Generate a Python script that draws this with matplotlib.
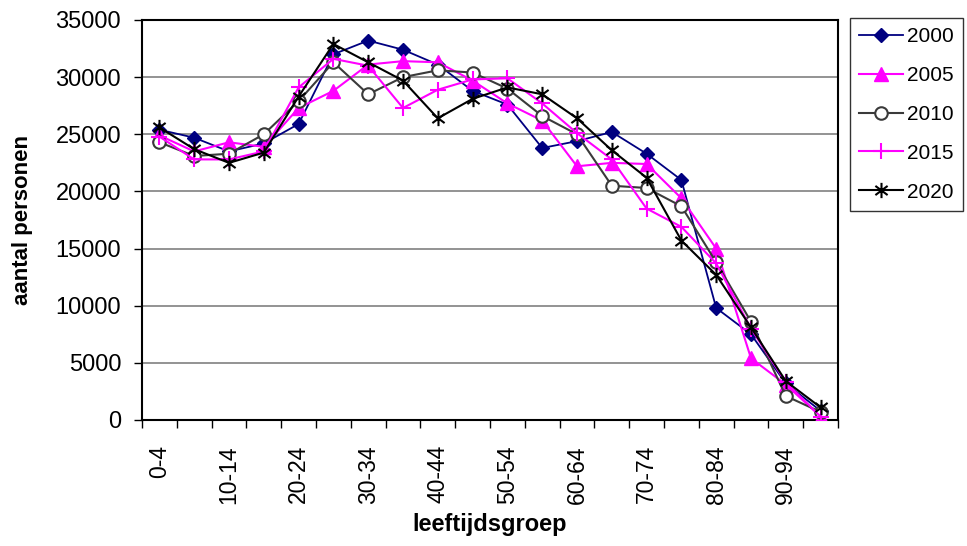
import matplotlib
matplotlib.use("Agg")
import matplotlib.pyplot as plt
from matplotlib.path import Path
import numpy as np

plt.rcParams['font.family'] = ['Liberation Sans', 'DejaVu Sans']

groups = ["0-4", "5-9", "10-14", "15-19", "20-24", "25-29", "30-34", "35-39",
          "40-44", "45-49", "50-54", "55-59", "60-64", "65-69", "70-74",
          "75-79", "80-84", "85-89", "90-94", "95-99"]

y2000 = [25400, 24700, 23500, 24200, 25900, 32000, 33200, 32400, 31100, 28800,
         27600, 23800, 24400, 25200, 23300, 21000, 9800, 7500, 3200, 800]
y2005 = [24900, 23500, 24300, 23900, 27300, 28800, 31100, 31400, 31300, 29700,
         27700, 26200, 22200, 22500, 22400, 19400, 15000, 5400, 3100, 300]
y2010 = [24300, 23100, 23300, 25000, 27900, 31300, 28500, 30000, 30600, 30400,
         29000, 26600, 25000, 20500, 20300, 18700, 13800, 8600, 2100, 700]
y2015 = [24800, 22800, 22800, 23500, 29100, 31600, 31000, 27300, 28900, 29800,
         29900, 27700, 25100, 22800, 18500, 16900, 13700, 8000, 3300, 300]
y2020 = [25600, 23700, 22500, 23400, 28300, 32900, 31300, 29700, 26400, 28100,
         29100, 28500, 26400, 23600, 21200, 15700, 12700, 8100, 3400, 1100]

series_names = ["2000", "2005", "2010", "2015", "2020"]

# asterisk marker: vertical line + X
ast = Path([(0, -1), (0, 1), (-0.8, -0.6), (0.8, 0.6), (-0.8, 0.6), (0.8, -0.6)],
           [Path.MOVETO, Path.LINETO, Path.MOVETO, Path.LINETO, Path.MOVETO, Path.LINETO])

fig = plt.figure(figsize=(9.67, 5.46), dpi=100)
ax = fig.add_axes([142/967, 1-420/546, (838-142)/967, 400/546])

x = np.arange(len(groups))
ax.plot(x, y2000, color='#000080', lw=1.3, marker='D', ms=7, mfc='#000080', mec='#000080', label=series_names[0], zorder=3)
ax.plot(x, y2005, color='#FF00FF', lw=1.5, marker='^', ms=10, mfc='#FF00FF', mec='#FF00FF', label=series_names[1], zorder=3)
ax.plot(x, y2010, color='#3a3a3a', lw=1.5, marker='o', ms=9, mfc='white', mec='#3a3a3a', mew=1.5, label=series_names[2], zorder=3)
ax.plot(x, y2015, color='#FF00FF', lw=1.5, marker='+', ms=12, mew=1.5, mec='#FF00FF', label=series_names[3], zorder=3)
ax.plot(x, y2020, color='black', lw=1.5, marker=ast, ms=11, mew=1.5, mec='black', label=series_names[4], zorder=3)

ax.set_xlim(-0.5, len(groups) - 0.5)
ax.set_ylim(0, 35000)
ax.set_yticks(np.arange(0, 35001, 5000))
ax.yaxis.grid(True, color='#808080', lw=1.2)
ax.set_axisbelow(True)

ax.set_xticks(x[::2])
ax.set_xticklabels(groups[::2], rotation=90, fontsize=16.5)
ax.set_xticks(np.arange(-0.5, len(groups), 1), minor=True)
ax.tick_params(axis='x', which='major', length=0, pad=18)
ax.tick_params(axis='x', which='minor', length=6, width=1, direction='out')
ax.tick_params(axis='y', length=6, width=1, labelsize=17, pad=9)

for s in ax.spines.values():
    s.set_color('black')
    s.set_linewidth(1.5)

ax.set_ylabel("aantal personen", fontsize=16, fontweight='bold', labelpad=16)
ax.set_xlabel("leeftijdsgroep", fontsize=17, fontweight='bold', labelpad=7)

leg = fig.legend(loc='upper left', bbox_to_anchor=(850/967, 1-18/546), fontsize=15,
                 frameon=True, fancybox=False, edgecolor='black', handlelength=2.1,
                 labelspacing=0.95, borderpad=0.45, handletextpad=0.2, borderaxespad=0)
leg.get_frame().set_linewidth(1.0)

fig.savefig("out.png", dpi=100)
